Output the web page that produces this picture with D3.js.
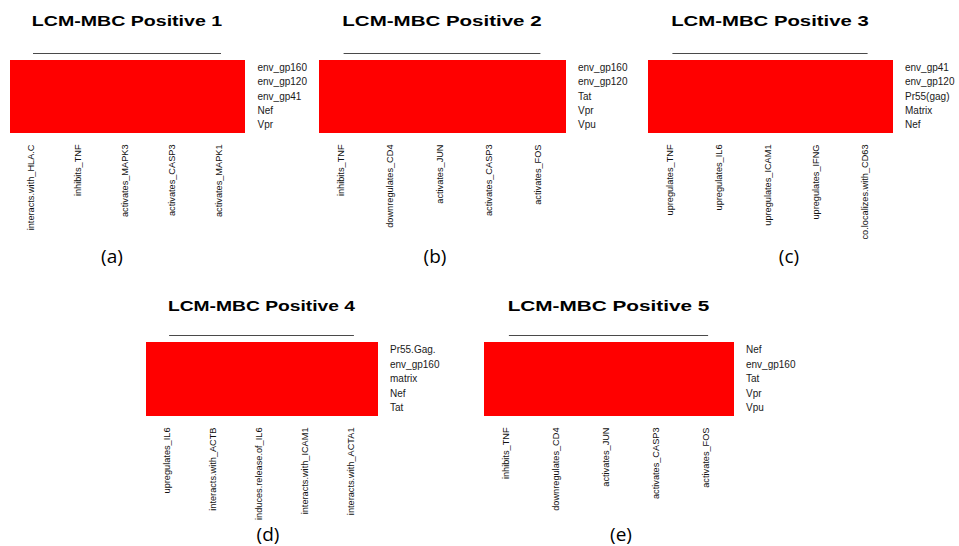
<!DOCTYPE html>
<html>
<head>
<meta charset="utf-8">
<script src="https://cdn.jsdelivr.net/npm/d3@7/dist/d3.min.js"></script>
<style>
  html, body { margin: 0; padding: 0; background: #fff; }
  svg { display: block; }
</style>
</head>
<body>
<svg id="chart" width="959" height="546"></svg>
<script>
// ---- data -------------------------------------------------------------
const titles = ["LCM-MBC Positive 1", "LCM-MBC Positive 2", "LCM-MBC Positive 3",
                "LCM-MBC Positive 4", "LCM-MBC Positive 5"];
const tags = ["(a)", "(b)", "(c)", "(d)", "(e)"];

const rows1 = ["env_gp160", "env_gp120", "env_gp41", "Nef", "Vpr"];
const rows2 = ["env_gp160", "env_gp120", "Tat", "Vpr", "Vpu"];
const rows3 = ["env_gp41", "env_gp120", "Pr55(gag)", "Matrix", "Nef"];
const rows4 = ["Pr55.Gag.", "env_gp160", "matrix", "Nef", "Tat"];
const rows5 = ["Nef", "env_gp160", "Tat", "Vpr", "Vpu"];

const cols1 = ["interacts.with_HLA.C", "inhibits_TNF", "activates_MAPK3", "activates_CASP3", "activates_MAPK1"];
const cols2 = ["inhibits_TNF", "downregulates_CD4", "activates_JUN", "activates_CASP3", "activates_FOS"];
const cols3 = ["upregulates_TNF", "upregulates_IL6", "upregulates_ICAM1", "upregulates_IFNG", "co.localizes.with_CD63"];
const cols4 = ["upregulates_IL6", "interacts.with_ACTB", "induces.release.of_IL6", "interacts.with_ICAM1", "interacts.with_ACTA1"];
const cols5 = ["inhibits_TNF", "downregulates_CD4", "activates_JUN", "activates_CASP3", "activates_FOS"];

// every protein/interaction pair is present (value 1)
const values1 = [[1,1,1,1,1],[1,1,1,1,1],[1,1,1,1,1],[1,1,1,1,1],[1,1,1,1,1]];
const values2 = [[1,1,1,1,1],[1,1,1,1,1],[1,1,1,1,1],[1,1,1,1,1],[1,1,1,1,1]];
const values3 = [[1,1,1,1,1],[1,1,1,1,1],[1,1,1,1,1],[1,1,1,1,1],[1,1,1,1,1]];
const values4 = [[1,1,1,1,1],[1,1,1,1,1],[1,1,1,1,1],[1,1,1,1,1],[1,1,1,1,1]];
const values5 = [[1,1,1,1,1],[1,1,1,1,1],[1,1,1,1,1],[1,1,1,1,1],[1,1,1,1,1]];

// ---- layout (heatmap body box for each panel) --------------------------
const frames = [
  { x0: 9.5, x1: 244.5, y0: 60, y1: 132, titleY: 26, tagX: 112, tagY: 263 },
  { x0: 319,  x1: 565,  y0: 60, y1: 132, titleY: 26, tagX: 435, tagY: 263 },
  { x0: 648,  x1: 892,  y0: 60, y1: 132, titleY: 26, tagX: 789, tagY: 263 },
  { x0: 146,  x1: 377,  y0: 342, y1: 415, titleY: 311, tagX: 268, tagY: 541 },
  { x0: 484,  x1: 733,  y0: 342, y1: 415, titleY: 311, tagX: 621, tagY: 541 }
];

const panels = [
  { rows: rows1, cols: cols1, values: values1 },
  { rows: rows2, cols: cols2, values: values2 },
  { rows: rows3, cols: cols3, values: values3 },
  { rows: rows4, cols: cols4, values: values4 },
  { rows: rows5, cols: cols5, values: values5 }
];

const color = d3.scaleLinear().domain([0, 1]).range(["#ffffff", "#ff0000"]);

const svg = d3.select("#chart");

panels.forEach((p, i) => {
  const f = frames[i];
  const g = svg.append("g");

  const x = d3.scaleBand().domain(p.cols).range([f.x0, f.x1]);
  const y = d3.scaleBand().domain(p.rows).range([f.y0, f.y1]);

  // heatmap cells
  const cells = [];
  p.rows.forEach((r, ri) => p.cols.forEach((c, ci) => cells.push({ r, c, v: p.values[ri][ci] })));
  g.selectAll("rect.cell").data(cells).join("rect")
    .attr("class", "cell")
    .attr("x", d => x(d.c))
    .attr("y", d => y(d.r))
    .attr("width", x.bandwidth() + 0.5)
    .attr("height", y.bandwidth() + 0.5)
    .attr("fill", d => color(d.v))
    .attr("shape-rendering", "crispEdges");

  // column dendrogram: all columns merge at zero height -> flat bar
  const first = p.cols[0], last = p.cols[p.cols.length - 1];
  g.append("line")
    .attr("x1", x(first) + x.bandwidth() / 2)
    .attr("x2", x(last) + x.bandwidth() / 2)
    .attr("y1", f.y0 - 6.5).attr("y2", f.y0 - 6.5)
    .attr("stroke", "#4a4a4a").attr("stroke-width", 1.2);

  // row labels on the right
  g.selectAll("text.row").data(p.rows).join("text")
    .attr("class", "row")
    .attr("x", f.x1 + 13)
    .attr("y", d => y(d) + y.bandwidth() / 2)
    .attr("dy", "0.36em")
    .attr("font-family", "Liberation Sans, Arial, sans-serif")
    .attr("font-size", 10)
    .attr("fill", "#1a1a1a")
    .text(d => d);

  // column labels, rotated, below the body
  g.selectAll("text.col").data(p.cols).join("text")
    .attr("class", "col")
    .attr("transform", d => `translate(${x(d) + x.bandwidth() / 2 + 0.5},${f.y1 + 12.5}) rotate(-90)`)
    .attr("text-anchor", "end")
    .attr("font-family", "Liberation Sans, Arial, sans-serif")
    .attr("font-size", 9.2)
    .attr("fill", "#111")
    .text(d => d);

  // panel title, centred over the body
  const w = f.x1 - f.x0;
  g.append("text")
    .attr("x", (f.x0 + f.x1) / 2)
    .attr("y", f.titleY)
    .attr("text-anchor", "middle")
    .attr("font-family", "Liberation Sans, Arial, sans-serif")
    .attr("font-weight", "bold")
    .attr("font-size", 15.5)
    .attr("textLength", w * 0.81)
    .attr("lengthAdjust", "spacingAndGlyphs")
    .attr("fill", "#000")
    .text(titles[i]);

  // panel tag
  g.append("text")
    .attr("x", f.tagX)
    .attr("y", f.tagY)
    .attr("text-anchor", "middle")
    .attr("font-family", "Open Sans, sans-serif")
    .attr("font-size", 19)
    .attr("fill", "#000")
    .text(tags[i]);
});
</script>
</body>
</html>
